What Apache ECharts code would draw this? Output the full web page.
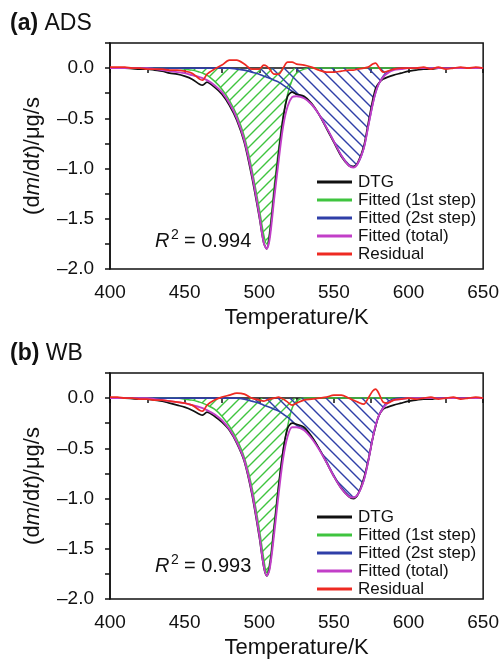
<!DOCTYPE html>
<html>
<head>
<meta charset="utf-8">
<script src="https://cdn.jsdelivr.net/npm/echarts@6/dist/echarts.min.js"></script>
<style>
html,body{margin:0;padding:0;background:#fff;}
#chart{width:502px;height:661px;}
</style>
</head>
<body>
<div id="chart"></div>
<script>
// ---------- data ----------
const temps = [400,405,410,415,420,425,430,435,440,445,450,455,460,462,465,470,475,480,485,490,495,500,503,505,507,510,513,516,519,522,525,530,535,540,545,550,555,560,563,566,570,573,576,578,580,583,586,590,595,600,605,610,615,620,625,630,635,640,645,650];

// Panel (a) ADS
const dtgA   = [0,0,0,-0.005,-0.01,-0.01,-0.02,-0.03,-0.05,-0.06,-0.08,-0.11,-0.16,-0.17,-0.14,-0.19,-0.26,-0.37,-0.52,-0.74,-1.08,-1.48,-1.74,-1.80,-1.66,-1.25,-0.85,-0.50,-0.28,-0.24,-0.26,-0.28,-0.35,-0.46,-0.60,-0.74,-0.88,-0.97,-0.98,-0.94,-0.78,-0.55,-0.32,-0.20,-0.15,-0.11,-0.09,-0.07,-0.05,-0.03,-0.02,-0.01,-0.01,0,0,0,0,0,0,0];
const fit1A  = [0,0,0,0,0,0,0,0,0,0,-0.01,-0.02,-0.04,-0.05,-0.07,-0.13,-0.21,-0.32,-0.47,-0.68,-1.00,-1.40,-1.66,-1.75,-1.62,-1.18,-0.80,-0.48,-0.26,-0.12,-0.05,-0.01,0,0,0,0,0,0,0,0,0,0,0,0,0,0,0,0,0,0,0,0,0,0,0,0,0,0,0,0];
const fit2A  = [0,0,0,0,0,0,0,0,0,0,0,0,0,0,0,0,0,0,-0.01,-0.02,-0.04,-0.06,-0.08,-0.09,-0.10,-0.12,-0.14,-0.17,-0.20,-0.23,-0.26,-0.29,-0.36,-0.46,-0.59,-0.73,-0.87,-0.96,-0.98,-0.95,-0.80,-0.58,-0.36,-0.24,-0.16,-0.08,-0.04,-0.01,0,0,0,0,0,0,0,0,0,0,0,0];
const totalA = [0,0,0,0,0,0,-0.01,-0.02,-0.03,-0.04,-0.05,-0.07,-0.09,-0.10,-0.12,-0.17,-0.24,-0.35,-0.50,-0.72,-1.05,-1.46,-1.74,-1.80,-1.70,-1.30,-0.92,-0.58,-0.38,-0.29,-0.28,-0.30,-0.36,-0.46,-0.59,-0.73,-0.87,-0.97,-0.99,-0.95,-0.80,-0.58,-0.36,-0.24,-0.16,-0.09,-0.05,-0.02,-0.01,0,0,0,0,0,0,0,0,0,0,0];
const resA   = [0.01,0.01,0.01,0,0,-0.01,-0.01,-0.01,-0.02,-0.02,-0.03,-0.05,-0.11,-0.12,-0.06,-0.01,0.03,0.08,0.08,0.04,-0.01,-0.01,0.03,0.02,-0.01,-0.06,-0.06,0,0.06,0.06,0.04,0.03,0.01,-0.02,-0.04,-0.04,-0.03,-0.02,-0.02,-0.01,0,0.01,0.04,0.05,0.01,-0.04,-0.03,-0.01,0,0,0,0.01,-0.01,0.01,-0.01,0,0.01,0,0.01,0];

// Panel (b) WB
const dtgB   = [0,0,0,-0.005,-0.01,-0.01,-0.02,-0.03,-0.05,-0.07,-0.09,-0.12,-0.16,-0.17,-0.14,-0.18,-0.24,-0.32,-0.45,-0.63,-0.95,-1.38,-1.68,-1.77,-1.68,-1.30,-0.88,-0.52,-0.30,-0.25,-0.26,-0.29,-0.38,-0.50,-0.64,-0.78,-0.90,-0.98,-1.00,-0.96,-0.80,-0.62,-0.40,-0.28,-0.18,-0.11,-0.09,-0.07,-0.05,-0.03,-0.02,-0.01,-0.01,0,0,0,0,0,0,0];
const fit1B  = [0,0,0,0,0,0,0,0,0,0,-0.01,-0.02,-0.04,-0.05,-0.07,-0.11,-0.18,-0.28,-0.41,-0.59,-0.88,-1.30,-1.60,-1.74,-1.64,-1.25,-0.85,-0.52,-0.28,-0.10,-0.03,0,0,0,0,0,0,0,0,0,0,0,0,0,0,0,0,0,0,0,0,0,0,0,0,0,0,0,0,0];
const fit2B  = [0,0,0,0,0,0,0,0,0,0,0,0,0,0,0,0,0,0,0,-0.01,-0.03,-0.05,-0.07,-0.08,-0.09,-0.11,-0.13,-0.16,-0.19,-0.23,-0.27,-0.31,-0.39,-0.50,-0.63,-0.77,-0.89,-0.97,-0.99,-0.96,-0.82,-0.63,-0.40,-0.27,-0.18,-0.09,-0.04,-0.01,0,0,0,0,0,0,0,0,0,0,0,0];
const totalB = [0,0,0,0,0,0,-0.01,-0.02,-0.03,-0.04,-0.05,-0.07,-0.09,-0.10,-0.12,-0.16,-0.22,-0.31,-0.44,-0.62,-0.93,-1.36,-1.67,-1.77,-1.70,-1.35,-0.95,-0.60,-0.38,-0.29,-0.29,-0.32,-0.40,-0.51,-0.64,-0.78,-0.90,-0.98,-0.99,-0.96,-0.82,-0.63,-0.40,-0.27,-0.18,-0.10,-0.05,-0.02,-0.01,0,0,0,0,0,0,0,0,0,0,0];
const resB   = [0.01,0.01,0,0,-0.01,-0.01,-0.02,-0.02,-0.03,-0.04,-0.05,-0.07,-0.12,-0.13,-0.07,-0.02,0.01,0.03,0.05,0.04,0,-0.02,-0.03,-0.02,-0.01,0,0.01,-0.01,-0.04,-0.07,-0.05,-0.02,-0.01,0,0.01,0.03,0.03,0,-0.02,-0.04,-0.06,0,0.07,0.09,0.05,-0.04,-0.05,-0.02,-0.01,0,-0.01,0,0.01,-0.01,0,0.01,-0.01,0,0.01,0];

const seriesNames = ['DTG','Fitted (1st step)','Fitted (2st step)','Fitted (total)','Residual'];
const xTicks = [400,450,500,550,600,650];
const yTicks = [0.0,-0.5,-1.0,-1.5,-2.0];
const panelTitles = [['(a)','ADS'],['(b)','WB']];
const r2Labels = ['0.994','0.993'];

// ---------- styling ----------
const FONT = '"Liberation Sans", Arial, Helvetica, sans-serif';
const C = {dtg:'#111111', g:'#3fc43f', b:'#2f3fa8', m:'#c23fc8', r:'#ee2a22'};

function hatch(color, size, dir){
  const c = document.createElement('canvas');
  c.width = size; c.height = size;
  const ctx = c.getContext('2d');
  ctx.strokeStyle = color; ctx.lineWidth = 1.4;
  ctx.beginPath();
  if (dir === '/') {
    ctx.moveTo(0,size); ctx.lineTo(size,0);
    ctx.moveTo(-2,2); ctx.lineTo(2,-2);
    ctx.moveTo(size-2,size+2); ctx.lineTo(size+2,size-2);
  } else {
    ctx.moveTo(0,0); ctx.lineTo(size,size);
    ctx.moveTo(size-2,-2); ctx.lineTo(size+2,2);
    ctx.moveTo(-2,size-2); ctx.lineTo(2,size+2);
  }
  ctx.stroke();
  return c;
}
const greenHatch = hatch(C.g, 11, '/');
const blueHatch = hatch(C.b, 12, '\\');

const grids = [
  {left:110, top:43, width:375, height:226},
  {left:110, top:373, width:375, height:226}
];

function pairs(arr){ return temps.map((t,i)=>[t, arr[i]]); }

const panels = [
  {dtg:dtgA, f1:fit1A, f2:fit2A, tot:totalA, res:resA},
  {dtg:dtgB, f1:fit1B, f2:fit2B, tot:totalB, res:resB}
];

const xAxes = [], yAxes = [], series = [], legends = [], graphics = [];
grids.forEach((g, p) => {
  xAxes.push({
    type:'value', gridIndex:p, min:400, max:650, interval:25,
    axisLine:{show:true, lineStyle:{color:'#111', width:1.5}},
    axisTick:{show:true, inside:false, length:5, lineStyle:{color:'#111', width:1.5}},
    axisLabel:{margin:14, fontSize:19, fontFamily:FONT, color:'#111',
      formatter:v => xTicks.indexOf(v) >= 0 ? String(v) : ''},
    splitLine:{show:false},
    name:'Temperature/K', nameLocation:'middle', nameGap:38,
    nameTextStyle:{fontSize:22, fontFamily:FONT, color:'#111'}
  });
  yAxes.push({
    type:'value', gridIndex:p, min:-2, max:0.25, interval:0.25,
    axisLine:{show:true, onZero:false, lineStyle:{color:'#111', width:1.5}},
    axisTick:{show:true, inside:false, length:5, lineStyle:{color:'#111', width:1.5}},
    axisLabel:{margin:16, fontSize:19, fontFamily:FONT, color:'#111',
      formatter:v => {
        const hit = yTicks.some(t => Math.abs(t - v) < 1e-6);
        if (!hit) return '';
        return (v < -1e-9 ? '\u2013' : '') + Math.abs(v).toFixed(1);
      }},
    splitLine:{show:false},
    name:'(d{i|m}/d{i|t})/\u03bcg/s', nameLocation:'middle', nameRotate:90, nameGap:66,
    nameTextStyle:{fontSize:22, fontFamily:FONT, color:'#111',
      rich:{i:{fontSize:22, fontFamily:FONT, fontStyle:'italic', color:'#111'}}}
  });
  const d = panels[p];
  const base = {type:'line', xAxisIndex:p, yAxisIndex:p, symbol:'none', showSymbol:false, smooth:0.3, silent:true};
  series.push(Object.assign({}, base, {name:seriesNames[1], data:pairs(d.f1), z:2,
    lineStyle:{color:C.g, width:1.5}, itemStyle:{color:C.g},
    areaStyle:{color:{image:greenHatch, repeat:'repeat'}, opacity:1}}));
  series.push(Object.assign({}, base, {name:seriesNames[2], data:pairs(d.f2), z:3,
    lineStyle:{color:C.b, width:1.6}, itemStyle:{color:C.b},
    areaStyle:{color:{image:blueHatch, repeat:'repeat'}, opacity:1}}));
  series.push(Object.assign({}, base, {name:seriesNames[0], data:pairs(d.dtg), z:4,
    lineStyle:{color:C.dtg, width:1.7}, itemStyle:{color:C.dtg}}));
  series.push(Object.assign({}, base, {name:seriesNames[3], data:pairs(d.tot), z:5,
    lineStyle:{color:C.m, width:1.9}, itemStyle:{color:C.m}}));
  series.push(Object.assign({}, base, {name:seriesNames[4], data:pairs(d.res), z:6,
    lineStyle:{color:C.r, width:1.7}, itemStyle:{color:C.r}}));

  legends.push({
    orient:'vertical', left:317, top: p === 0 ? 173 : 508, padding:0,
    itemWidth:35, itemHeight:3, itemGap:0, icon:'rect',
    selectedMode:false,
    textStyle:{fontSize:17, fontFamily:FONT, color:'#111', lineHeight:18, padding:[0,0,0,1]},
    data: seriesNames.map((n,i)=>({name:n, itemStyle:{color:[C.dtg,C.g,C.b,C.m,C.r][i], borderWidth:0}}))
  });

  // panel title
  const ty = p === 0 ? 25 : 355;
  graphics.push({type:'text', left:10, top:ty - 13, style:{
    text:'{b|' + panelTitles[p][0] + '} ' + panelTitles[p][1],
    font:'23px ' + FONT, fill:'#111',
    rich:{b:{fontWeight:'bold', fontSize:23, fontFamily:FONT, fill:'#111'}}
  }});
  // R^2 label
  const baseY = p === 0 ? 248 : 573;
  graphics.push({type:'text', x:155, y:baseY - 7, style:{text:'R', font:'italic 20px ' + FONT, fill:'#111', verticalAlign:'middle'}});
  graphics.push({type:'text', x:171, y:baseY - 13, style:{text:'2', font:'14px ' + FONT, fill:'#111', verticalAlign:'middle'}});
  graphics.push({type:'text', x:184, y:baseY - 7, style:{text:'= ' + r2Labels[p], font:'20px ' + FONT, fill:'#111', verticalAlign:'middle'}});
});

const chart = echarts.init(document.getElementById('chart'), null, {renderer:'canvas'});
chart.setOption({
  backgroundColor:'#ffffff',
  animation:false,
  grid: grids.map(g => Object.assign({show:true, borderColor:'#111', borderWidth:1.5, backgroundColor:'transparent'}, g)),
  xAxis: xAxes,
  yAxis: yAxes,
  legend: legends,
  series: series,
  graphic: graphics
});
</script>
</body>
</html>
